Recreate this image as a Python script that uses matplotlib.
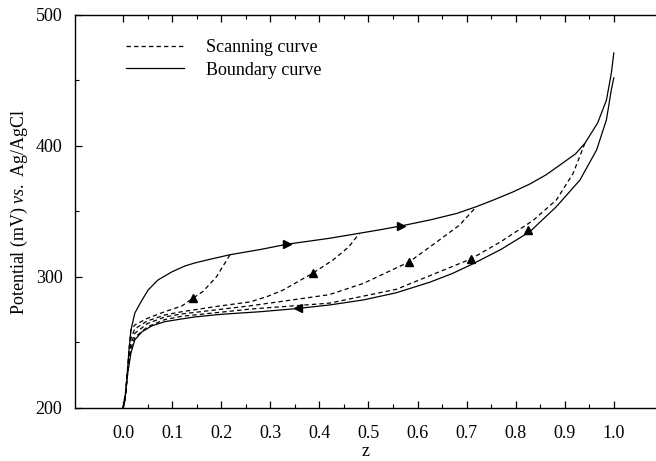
import numpy as np
import matplotlib
matplotlib.use("Agg")
import matplotlib.pyplot as plt

plt.rcParams["font.family"] = ["Liberation Serif", "DejaVu Serif"]
plt.rcParams["mathtext.fontset"] = "custom"
plt.rcParams["mathtext.it"] = "Liberation Serif:italic"
plt.rcParams["mathtext.rm"] = "Liberation Serif"

# boundary curves (charging goes right along the upper one, discharging left along the lower one)
upper_z = [0, 0.004, 0.0075, 0.012, 0.016, 0.024, 0.038, 0.051, 0.071, 0.1, 0.126,
           0.146, 0.177, 0.218, 0.28, 0.334, 0.42, 0.482, 0.523, 0.567, 0.625,
           0.68, 0.72, 0.755, 0.795, 0.829, 0.862, 0.896, 0.922, 0.941, 0.967,
           0.985, 0.995, 1.0]
upper_v = [200, 206, 221, 244, 259.5, 272.5, 282, 290, 297.7, 304, 308.4,
           310.7, 313.5, 317, 321, 325, 329.5, 333.4, 336, 339, 343.5,
           348.5, 353.7, 358.8, 365, 371, 378, 387, 394, 402, 417.5,
           435, 455.6, 471]

lower_z = [0, 0.004, 0.0095, 0.016, 0.024, 0.038, 0.058, 0.085, 0.12, 0.146, 0.2,
           0.28, 0.357, 0.42, 0.49, 0.557, 0.625, 0.67, 0.71, 0.77, 0.829, 0.883,
           0.931, 0.965, 0.985, 0.995, 1.0]
lower_v = [200, 208, 226.7, 242, 252, 258, 262.6, 265.9, 268, 269.5, 271.5,
           273.5, 276, 278.6, 282.5, 288, 296, 302.5, 309.5, 321, 334.6, 353.7,
           374, 397, 420, 443, 452]

# scanning curves, leaving the upper boundary and heading back to z = 0
scan1_z = [0, 0.004, 0.0075, 0.012, 0.016, 0.024, 0.05, 0.085, 0.12, 0.143, 0.163,
           0.19, 0.218]
scan1_v = [200, 206, 221, 244, 259.5, 263.4, 268.5, 273.5, 277.9, 284, 289,
           300, 317]

scan2_z = [0, 0.005, 0.01, 0.016, 0.024, 0.05, 0.085, 0.12, 0.19, 0.259, 0.293,
           0.326, 0.387, 0.428, 0.46, 0.482]
scan2_v = [200, 212, 232, 253, 260.5, 266.5, 271, 273.5, 277.5, 281, 285,
           290, 303, 313, 323, 333.4]

scan3_z = [0, 0.005, 0.01, 0.016, 0.024, 0.05, 0.085, 0.12, 0.259, 0.326, 0.42,
           0.489, 0.583, 0.64, 0.686, 0.72]
scan3_v = [200, 211, 230, 249, 257, 264.5, 269.5, 271.8, 278, 281.5, 286.5,
           295, 311.5, 327, 339.7, 353.7]

scan4_z = [0, 0.005, 0.01, 0.016, 0.024, 0.05, 0.085, 0.12, 0.259, 0.42, 0.557,
           0.709, 0.77, 0.835, 0.883, 0.917, 0.941]
scan4_v = [200, 210, 228.5, 245, 254, 262, 267.5, 270, 275.5, 280, 290.6,
           313.8, 327, 343, 358.8, 379, 402]

# direction markers
right_z = [0.334, 0.567]
right_v = [325, 339]
left_z = [0.357]
left_v = [276]
scan_arrow_z = [0.143, 0.387, 0.583, 0.709, 0.826]
scan_arrow_v = [284, 303, 311.5, 313.8, 336]

fig = plt.figure(figsize=(6.56, 4.61), dpi=100)
ax = fig.add_axes([0.1143, 0.115, 0.8857, 0.8525])

dash = (0, (3.5, 2.5))
lw = 0.9
ax.plot(upper_z, upper_v, color="black", lw=lw)
ax.plot(lower_z, lower_v, color="black", lw=lw)
for z, v in [(scan1_z, scan1_v), (scan2_z, scan2_v), (scan3_z, scan3_v), (scan4_z, scan4_v)]:
    ax.plot(z, v, color="black", lw=lw, linestyle=dash)

ax.plot(right_z, right_v, ">", color="black", ms=6, ls="none")
ax.plot(left_z, left_v, "<", color="black", ms=6, ls="none")
ax.plot(scan_arrow_z, scan_arrow_v, "^", color="black", ms=6, ls="none")

# legend entries
ax.plot([], [], color="black", lw=lw, linestyle=dash, label="Scanning curve")
ax.plot([], [], color="black", lw=lw, label="Boundary curve")
handles, labels = ax.get_legend_handles_labels()
ax.legend(handles[-2:], labels[-2:], loc="upper left", bbox_to_anchor=(0.06, 0.98),
          frameon=False, fontsize=13, handlelength=3.2, handletextpad=1.2,
          labelspacing=0.3)

ax.set_xlim(-0.098, 1.086)
ax.set_ylim(200, 500)
ax.set_xticks(np.arange(0, 1.01, 0.1))
ax.set_xticklabels([f"{t:.1f}" for t in np.arange(0, 1.01, 0.1)])
ax.set_xticks(np.arange(0.05, 1.0, 0.1), minor=True)
ax.set_yticks([200, 300, 400, 500])
ax.set_yticks([250, 350, 450], minor=True)
ax.tick_params(which="both", direction="in", top=True, right=False, labelsize=13)
ax.tick_params(which="major", length=5, width=0.9)
ax.tick_params(which="minor", length=3, width=0.8)
ax.tick_params(axis="x", pad=12)
ax.tick_params(axis="y", pad=9)
ax.spines["right"].set_visible(False)
for s in ["left", "bottom", "top"]:
    ax.spines[s].set_linewidth(1.0)

ax.set_xlabel("z", fontsize=13, labelpad=1)
ax.set_ylabel(r"Potential (mV) $\it{vs.}$ Ag/AgCl", fontsize=13, labelpad=4)

fig.savefig("out.png", dpi=100)
